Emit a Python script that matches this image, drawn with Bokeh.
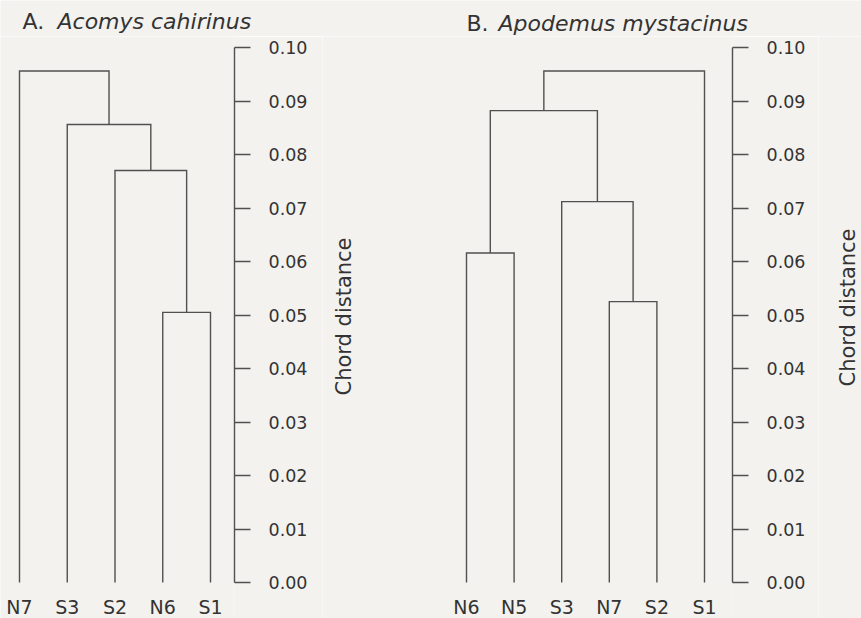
import math
from bokeh.plotting import figure
from bokeh.models import LinearAxis, FixedTicker, NumeralTickFormatter, Range1d
from bokeh.layouts import row, column
from bokeh.core.properties import value
from bokeh.embed import file_html
from bokeh.resources import INLINE

# ---------------- data ----------------
leaves_a = ["N7", "S3", "S2", "N6", "S1"]
merge_left_a = [3, 2, 1, 0]
merge_right_a = [4, 5, 6, 7]
merge_height_a = [0.0505, 0.077, 0.0856, 0.0956]

leaves_b = ["N6", "N5", "S3", "N7", "S2", "S1"]
merge_left_b = [3, 0, 2, 7, 9]
merge_right_b = [4, 1, 6, 8, 5]
merge_height_b = [0.0525, 0.0616, 0.0712, 0.0882, 0.0956]

tick_values = [0.00, 0.01, 0.02, 0.03, 0.04, 0.05, 0.06, 0.07, 0.08, 0.09, 0.10]
axis_title = "Chord distance"
title_a = ("A.", "Acomys cahirinus")
title_b = ("B.", "Apodemus mystacinus")

# ---------------- layout constants (screen px) ----------------
W = 861
H = 618
TOP_H = 36             # title strip height
MAIN_H = H - TOP_H
Y0_PX = 582.0          # screen y of 0.00
Y10_PX = 47.0          # screen y of 0.10
YSCALE = (Y0_PX - Y10_PX) / 0.10

BG = "#f3f2ee"
LINE = "#505050"
TEXT = "#333333"
FONT = "DejaVu Sans"


def yd(py):
    return (Y0_PX - py) / YSCALE


Y_START = yd(H)
Y_END = yd(TOP_H)


def dendro_paths(n, left, right, heights):
    pos = [float(i) for i in range(n)]
    hs = [0.0] * n
    xs, ys = [], []
    for l, r, h in zip(left, right, heights):
        xl, xr = pos[l], pos[r]
        xs.append([xl, xl, xr, xr])
        ys.append([hs[l], h, h, hs[r]])
        pos.append((xl + xr) / 2.0)
        hs.append(h)
    return xs, ys


def base_fig(width, height, x_range, y_range, right_border=0):
    p = figure(width=width, height=height, output_backend="svg",
               toolbar_location=None, tools="",
               x_range=x_range, y_range=y_range,
               x_axis_location=None, y_axis_location=None,
               min_border=0, min_border_right=right_border,
               background_fill_color=BG, border_fill_color=BG,
               outline_line_color=None)
    p.grid.visible = False
    return p


def make_panel(leaves, left, right, heights, fig_left, fig_width, axis_px,
               leaf0_px, step_px, extra_label_px=None):
    def xd(px):
        return (px - leaf0_px) / step_px

    frame_w = axis_px - fig_left
    p = base_fig(fig_width, MAIN_H, Range1d(xd(fig_left), xd(axis_px)),
                 Range1d(Y_START, Y_END), right_border=fig_width - frame_w)

    xs, ys = dendro_paths(len(leaves), left, right, heights)
    p.multi_line(xs, ys, line_color=LINE, line_width=1.4, line_join="miter")

    p.text(x=list(range(len(leaves))), y=[yd(606)] * len(leaves), text=leaves,
           text_align="center", text_baseline="middle",
           text_font=value(FONT), text_font_size=value("19px"),
           text_color=TEXT)

    ax = LinearAxis(bounds=(0, 0.1), ticker=FixedTicker(ticks=tick_values),
                    formatter=NumeralTickFormatter(format="0.00"))
    ax.major_tick_in = 0
    ax.major_tick_out = 16
    ax.minor_tick_line_color = None
    ax.axis_line_color = LINE
    ax.axis_line_width = 1.4
    ax.major_tick_line_color = LINE
    ax.major_tick_line_width = 1.4
    ax.major_label_standoff = 18
    ax.major_label_text_font = FONT
    ax.major_label_text_font_size = "17.5px"
    ax.major_label_text_color = TEXT
    p.add_layout(ax, "right")

    if extra_label_px is not None:
        cx, cy = extra_label_px
        p.text(x=[xd(cx)], y=[yd(cy)], text=[axis_title], angle=math.pi / 2,
               text_align="center", text_baseline="middle",
               text_font=value(FONT), text_font_size=value("21px"),
               text_color=TEXT)
    return p


# title strip (data units == screen pixels)
pt = base_fig(W, TOP_H, Range1d(0, W), Range1d(TOP_H, 0))
for (upright, italic), xu, xi, mid in [(title_a, 22, 57, 21), (title_b, 466, 498, 23)]:
    pt.text(x=[xu], y=[mid], text=[upright], text_align="left",
            text_baseline="middle", text_font=value(FONT),
            text_font_size=value("22px"), text_color=TEXT)
    pt.text(x=[xi], y=[mid], text=[italic], text_align="left",
            text_baseline="middle", text_font=value(FONT),
            text_font_size=value("22px"), text_font_style="italic",
            text_color=TEXT)

PA_W = 322
PB_LEFT = PA_W
PB_W = 818 - PB_LEFT
PC_LEFT = PB_LEFT + PB_W

pa = make_panel(leaves_a, merge_left_a, merge_right_a, merge_height_a,
                fig_left=0, fig_width=PA_W, axis_px=234,
                leaf0_px=19, step_px=47.75)
# panel B frame also carries panel A's axis title
pb = make_panel(leaves_b, merge_left_b, merge_right_b, merge_height_b,
                fig_left=PB_LEFT, fig_width=PB_W, axis_px=732,
                leaf0_px=466, step_px=47.6, extra_label_px=(343, 316))

# narrow strip holding panel B's axis title
pc = base_fig(W - PC_LEFT, MAIN_H, Range1d(PC_LEFT, W), Range1d(Y_START, Y_END))
pc.text(x=[847], y=[yd(307)], text=[axis_title], angle=math.pi / 2,
        text_align="center", text_baseline="middle",
        text_font=value(FONT), text_font_size=value("21px"), text_color=TEXT)

layout = column(pt, row(pa, pb, pc))
with open("out.html", "w") as f:
    f.write(file_html(layout, INLINE))
